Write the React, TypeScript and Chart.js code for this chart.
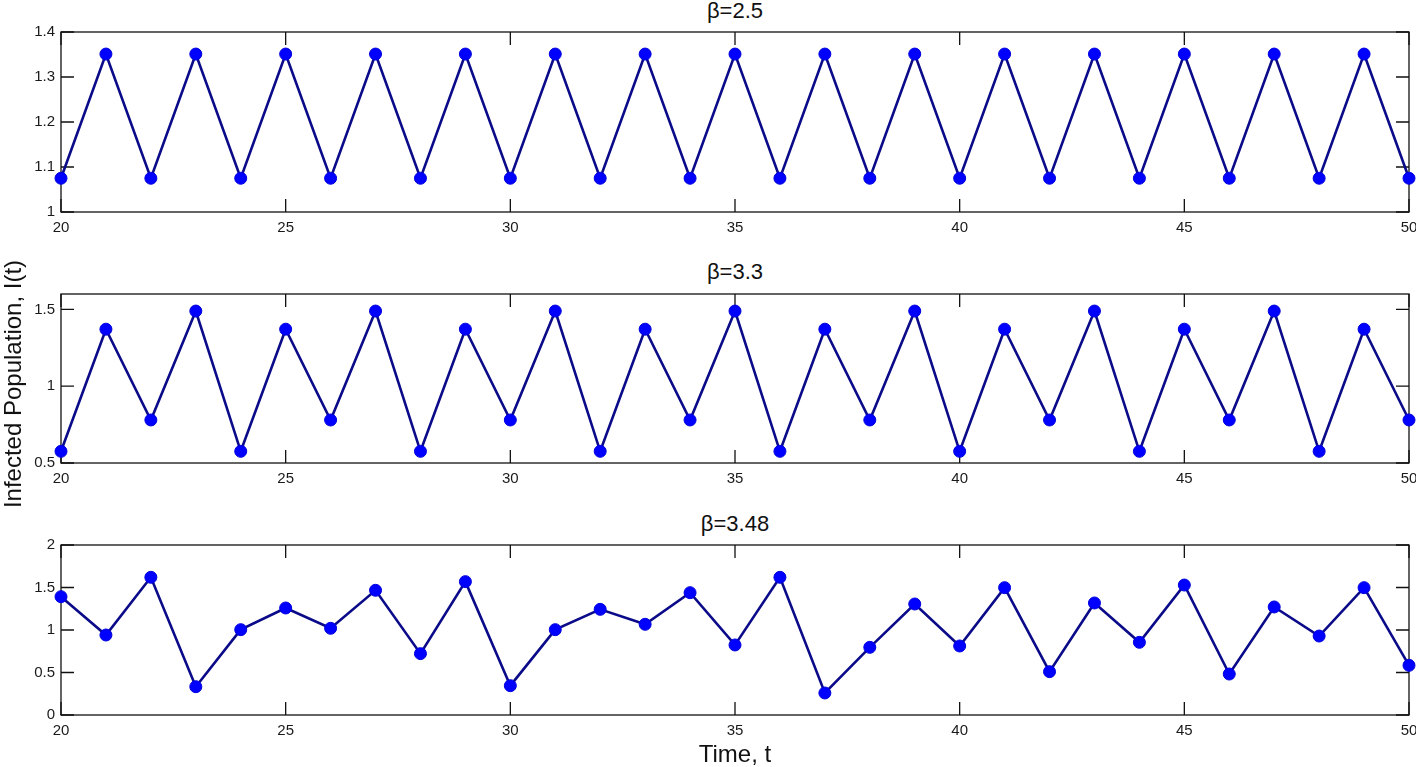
import React, { useEffect, useRef } from "react";
import { Chart, registerables } from "chart.js";

Chart.register(...registerables);

// ---------- data ----------
const TIME = [20, 21, 22, 23, 24, 25, 26, 27, 28, 29, 30, 31, 32, 33, 34, 35, 36, 37, 38, 39, 40, 41, 42, 43, 44, 45, 46, 47, 48, 49, 50];

const I_BETA_2_5 = [1.075, 1.351, 1.075, 1.351, 1.075, 1.351, 1.075, 1.351, 1.075, 1.351, 1.075, 1.351, 1.075, 1.351, 1.075, 1.351, 1.075, 1.351, 1.075, 1.351, 1.075, 1.351, 1.075, 1.351, 1.075, 1.351, 1.075, 1.351, 1.075, 1.351, 1.075];

const I_BETA_3_3 = [0.576, 1.371, 0.78, 1.489, 0.576, 1.371, 0.78, 1.489, 0.576, 1.371, 0.78, 1.489, 0.576, 1.371, 0.78, 1.489, 0.576, 1.371, 0.78, 1.489, 0.576, 1.371, 0.78, 1.489, 0.576, 1.371, 0.78, 1.489, 0.576, 1.371, 0.78];

const I_BETA_3_48 = [1.392, 0.941, 1.62, 0.333, 1.004, 1.259, 1.02, 1.467, 0.722, 1.569, 0.345, 1.004, 1.243, 1.067, 1.439, 0.824, 1.62, 0.259, 0.796, 1.306, 0.812, 1.498, 0.51, 1.318, 0.855, 1.529, 0.482, 1.271, 0.929, 1.498, 0.584];

const X_TICKS = [20, 25, 30, 35, 40, 45, 50];
const Y_TICKS_1 = [1, 1.1, 1.2, 1.3, 1.4];
const Y_TICKS_2 = [0.5, 1, 1.5];
const Y_TICKS_3 = [0, 0.5, 1, 1.5, 2];

const TITLES = ["β=2.5", "β=3.3", "β=3.48"];
const X_LABEL = "Time, t";
const Y_LABEL = "Infected Population, I(t)";

// ---------- layout ----------
const W = 1416;
const H = 767;
const PLOT_LEFT = 61;
const PLOT_RIGHT = 1409;
const PAD_TOP = 10;
const X_AXIS_H = 30;
const FONT = "'Liberation Sans', Arial, Helvetica, sans-serif";

type Panel = {
  values: number[];
  yMin: number;
  yMax: number;
  yTicks: number[];
  top: number;
  bottom: number;
  title: string;
  titleTop: number;
};

const PANELS: Panel[] = [
  { values: I_BETA_2_5, yMin: 1, yMax: 1.4, yTicks: Y_TICKS_1, top: 32, bottom: 212, title: TITLES[0], titleTop: 0 },
  { values: I_BETA_3_3, yMin: 0.5, yMax: 1.6, yTicks: Y_TICKS_2, top: 294, bottom: 463, title: TITLES[1], titleTop: 261 },
  { values: I_BETA_3_48, yMin: 0, yMax: 2, yTicks: Y_TICKS_3, top: 545, bottom: 715, title: TITLES[2], titleTop: 513 },
];

const framePlugin = {
  id: "matlabFrame",
  beforeDatasetsDraw(chart: any) {
    const ctx = chart.ctx;
    const { left, right, top, bottom } = chart.chartArea;
    const tl = 13;
    ctx.save();
    ctx.strokeStyle = "#111";
    ctx.lineWidth = 1.3;
    ctx.strokeRect(left, top, right - left, bottom - top);
    ctx.beginPath();
    const xs = chart.scales.x;
    for (const t of xs.ticks) {
      const px = xs.getPixelForValue(t.value);
      ctx.moveTo(px, bottom);
      ctx.lineTo(px, bottom - tl);
      ctx.moveTo(px, top);
      ctx.lineTo(px, top + tl);
    }
    const ys = chart.scales.y;
    for (const t of ys.ticks) {
      const py = ys.getPixelForValue(t.value);
      ctx.moveTo(left, py);
      ctx.lineTo(left + tl, py);
      ctx.moveTo(right, py);
      ctx.lineTo(right - tl, py);
    }
    ctx.stroke();
    ctx.restore();
  },
};

function PanelChart({ panel }: { panel: Panel }) {
  const ref = useRef<HTMLCanvasElement | null>(null);
  const canvasTop = panel.top - PAD_TOP;
  const canvasH = panel.bottom - panel.top + PAD_TOP + X_AXIS_H;

  useEffect(() => {
    if (!ref.current) return;
    const chart = new Chart(ref.current, {
      type: "line",
      data: {
        datasets: [
          {
            data: TIME.map((t, i) => ({ x: t, y: panel.values[i] })),
            borderColor: "#0b0b8a",
            borderWidth: 2.6,
            pointRadius: 6,
            pointBackgroundColor: "#0000ff",
            pointBorderColor: "#0000dd",
            pointBorderWidth: 1,
            tension: 0,
            clip: false as any,
          },
        ],
      },
      options: {
        animation: false,
        responsive: false,
        maintainAspectRatio: false,
        devicePixelRatio: 1,
        layout: {
          autoPadding: false,
          padding: { top: PAD_TOP, right: W - PLOT_RIGHT, left: 0, bottom: 0 },
        },
        plugins: { legend: { display: false }, tooltip: { enabled: false }, title: { display: false } },
        scales: {
          x: {
            type: "linear",
            min: 20,
            max: 50,
            grid: { display: false, drawTicks: false },
            border: { display: false },
            afterBuildTicks: (s: any) => {
              s.ticks = X_TICKS.map((v) => ({ value: v }));
            },
            afterFit: (s: any) => {
              s.height = X_AXIS_H;
              s.paddingLeft = 0;
              s.paddingRight = 0;
              s.paddingTop = 0;
              s.paddingBottom = 0;
            },
            ticks: {
              padding: 7,
              maxRotation: 0,
              autoSkip: false,
              color: "#1a1a1a",
              font: { family: FONT, size: 15 },
              callback: (v: any) => String(v),
            },
          },
          y: {
            type: "linear",
            min: panel.yMin,
            max: panel.yMax,
            grid: { display: false, drawTicks: false },
            border: { display: false },
            afterBuildTicks: (s: any) => {
              s.ticks = panel.yTicks.map((v) => ({ value: v }));
            },
            afterFit: (s: any) => {
              s.width = PLOT_LEFT;
              s.paddingTop = 0;
              s.paddingBottom = 0;
              s.paddingLeft = 0;
              s.paddingRight = 0;
            },
            ticks: {
              padding: 6,
              autoSkip: false,
              color: "#1a1a1a",
              font: { family: FONT, size: 15 },
              callback: (v: any) => String(Number(Number(v).toFixed(2))),
            },
          },
        },
      },
      plugins: [framePlugin],
    });
    return () => chart.destroy();
  }, [panel]);

  return (
    <>
      <div
        style={{
          position: "absolute",
          left: PLOT_LEFT,
          width: PLOT_RIGHT - PLOT_LEFT,
          top: panel.titleTop,
          height: 22,
          lineHeight: "22px",
          fontSize: 22,
          fontFamily: FONT,
          textAlign: "center",
          color: "#111",
        }}
      >
        {panel.title}
      </div>
      <canvas
        ref={ref}
        width={W}
        height={canvasH}
        style={{ position: "absolute", left: 0, top: canvasTop, width: W, height: canvasH }}
      />
    </>
  );
}

export default function App() {
  return (
    <div
      style={{
        position: "absolute",
        left: 0,
        top: 0,
        width: W,
        height: H,
        background: "#fff",
        overflow: "hidden",
      }}
    >
      {PANELS.map((p, i) => (
        <PanelChart key={i} panel={p} />
      ))}
      <div
        style={{
          position: "absolute",
          left: PLOT_LEFT,
          width: PLOT_RIGHT - PLOT_LEFT,
          top: 742,
          height: 24,
          lineHeight: "24px",
          fontSize: 24,
          fontFamily: FONT,
          textAlign: "center",
          color: "#111",
        }}
      >
        {X_LABEL}
      </div>
      <div
        style={{
          position: "absolute",
          left: 12.7 - 150,
          top: 384 - 12,
          width: 300,
          height: 24,
          lineHeight: "24px",
          fontSize: 24,
          fontFamily: FONT,
          textAlign: "center",
          color: "#111",
          transform: "rotate(-90deg)",
          transformOrigin: "50% 50%",
          whiteSpace: "nowrap",
        }}
      >
        {Y_LABEL}
      </div>
    </div>
  );
}
